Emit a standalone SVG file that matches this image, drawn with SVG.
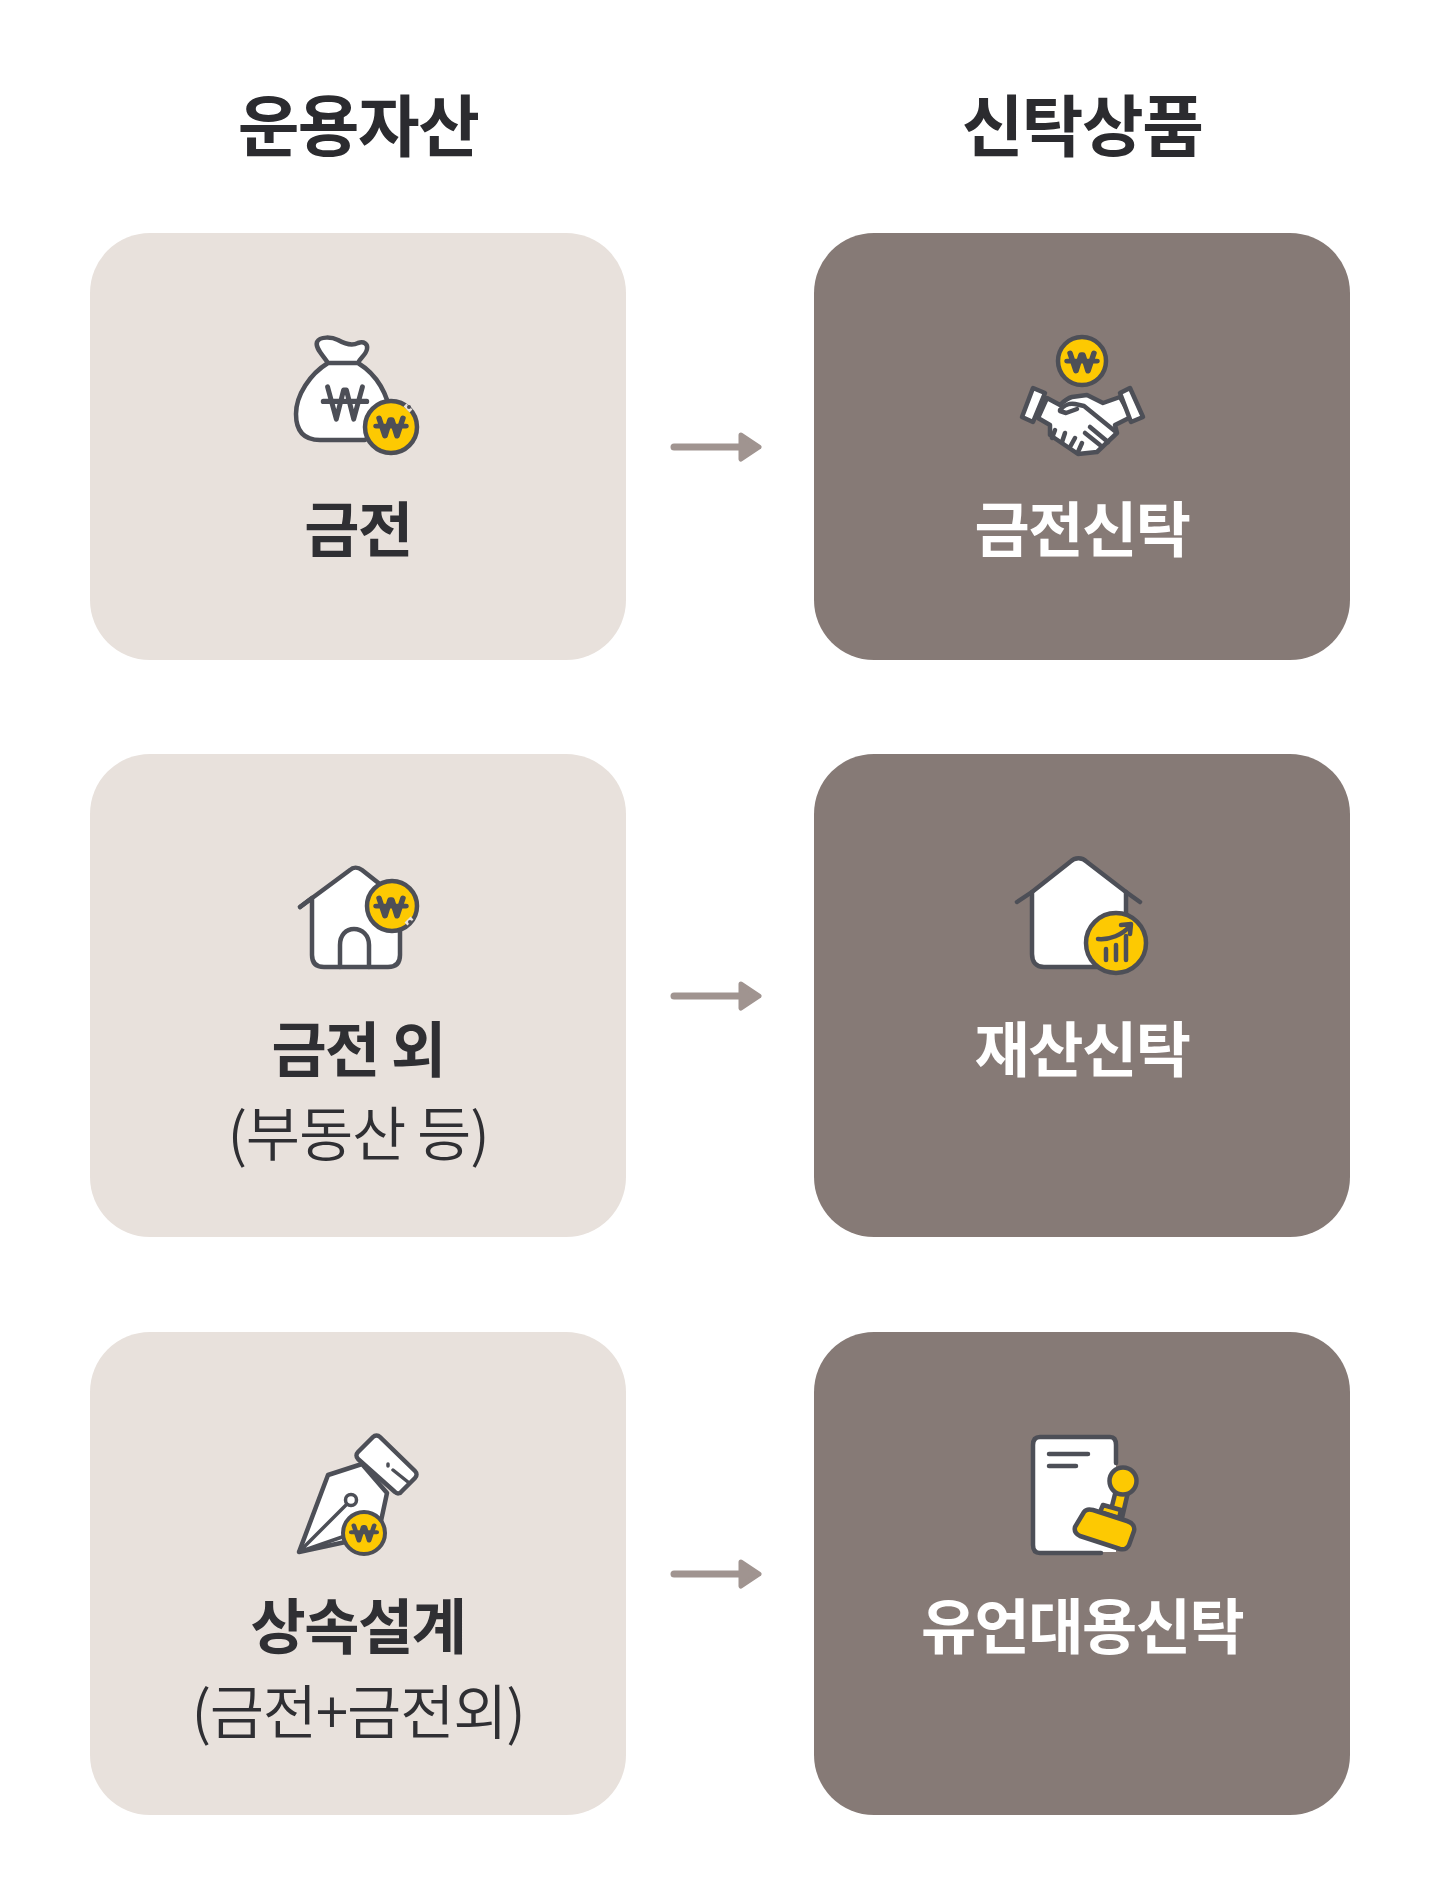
<svg xmlns="http://www.w3.org/2000/svg" width="1439" height="1892" viewBox="0 0 1439 1892">
<style>
text{font-family:"Noto Sans CJK KR","Noto Sans",sans-serif;text-anchor:middle}
.h{font-size:67px;font-weight:700;fill:#2b2b2f;letter-spacing:-1.5px}
.l{font-size:60px;font-weight:700;fill:#2f2f33;letter-spacing:-1.5px}
.w{font-size:60px;font-weight:700;fill:#fff;letter-spacing:-1.5px}
.s{font-size:59px;font-weight:350;fill:#2f2f33;letter-spacing:-1.2px}
.lt{fill:#e8e1dc}.dk{fill:#867a76}
.i{fill:#fff;stroke:#4d4f57;stroke-width:4.5;stroke-linejoin:round;stroke-linecap:round}
.n{fill:none;stroke:#4d4f57;stroke-width:4.5;stroke-linejoin:round;stroke-linecap:round}
.f{fill:#fff}
.c{fill:#fdc902;stroke:#4d4f57;stroke-width:4.5}
.st{fill:#fdc902;stroke:#4d4f57;stroke-width:4.5;stroke-linejoin:round}
.ar{fill:none;stroke:#a09490;stroke-width:7;stroke-linecap:round}
.ah{fill:#a09490;stroke:#a09490;stroke-width:5;stroke-linejoin:round}
</style>
<defs>
<g id="won" fill="none" stroke="#4d4f57" stroke-linecap="round" stroke-linejoin="round">
<path d="M-12-10-6 10-1-8H1L6 10 12-10M-15-1H15"/>
</g>
</defs>
<rect width="1439" height="1892" fill="#fff"/>
<text class="h" x="358" y="151">운용자산</text>
<text class="h" x="1082" y="151">신탁상품</text>
<g id="connectors">
<g><path class="ar" d="M674 447H742"/><path class="ah" d="M741 435 759 447 741 459Z"/></g>
<g><path class="ar" d="M674 996H742"/><path class="ah" d="M741 984 759 996 741 1008Z"/></g>
<g><path class="ar" d="M674 1574H742"/><path class="ah" d="M741 1562 759 1574 741 1586Z"/></g>
</g>
<g id="node-gold">
<rect class="lt" x="90" y="233" width="536" height="427" rx="60"/>
<path class="i" d="M328 363C322 354 315 348 317 342C320 336 332 337 338 340C345 344 352 346 358 343C364 341 368 344 367 349C366 355 360 358 358 363ZM328 363H358C376 374 388 393 392 420L365 440H320C303 440 296 430 296 414C296 395 310 374 328 363Z"/>
<use href="#won" transform="translate(345 403) scale(1.45 1.6)" stroke-width="3.4"/>
<circle class="c" cx="391" cy="427" r="26"/>
<use href="#won" transform="translate(391 427) scale(1 .9)" stroke-width="5.5"/>
<path d="M405 405 411 411" stroke="#e8e1dc" stroke-width="4"/><circle cx="409" cy="407" r="2" fill="#4d4f57"/>
<text class="l" x="358" y="552">금전</text>
</g>
<g id="node-gold-trust">
<rect class="dk" x="814" y="233" width="536" height="427" rx="60"/>
<circle class="c" cx="1082" cy="361" r="24"/>
<use href="#won" transform="translate(1082 362) scale(1 .9)" stroke-width="5.5"/>
<path class="i" d="M1047 398 1060 405C1064 401 1068 398 1072 397L1087 395 1103 403 1120 397 1131 417 1115 425 1117 433 1097 452 1078 454 1050 435 1050 425 1038 418Z"/>
<path class="i" d="M1033 388 1045 393 1033 422 1022 417ZM1120 393 1130 388 1143 417 1131 422Z"/>
<path class="n" d="M1060 410C1064 405 1070 403 1075 404L1084 406 1116 432M1060 411 1066 413 1077 409M1090 427 1108 442M1085 433 1100 445M1055 430 1052 438M1065 433 1062 442M1075 438 1070 447M1082 443 1078 452"/>
<text class="w" x="1082" y="552">금전신탁</text>
</g>
<g id="node-etc">
<rect class="lt" x="90" y="754" width="536" height="483" rx="60"/>
<path class="i" d="M300 907 350 870C353 867 358 867 362 870L400 900V955C400 963 396 967 388 967H324C316 967 312 963 312 955V898Z"/>
<path class="n" d="M300 907 312 898M340 967V945C340 935 346 929 354 929C362 929 369 935 369 945V967"/>
<circle class="c" cx="392" cy="906" r="25"/>
<use href="#won" transform="translate(391 907) scale(1 .9)" stroke-width="5.5"/>
<path d="M406 924 412 918" stroke="#e8e1dc" stroke-width="4"/><circle cx="410" cy="922" r="2" fill="#4d4f57"/>
<text class="l" x="358" y="1072">금전 외</text>
<text class="s" x="358" y="1156">(부동산 등)</text>
</g>
<g id="node-property-trust">
<rect class="dk" x="814" y="754" width="536" height="483" rx="60"/>
<path class="i" d="M1032 892 1070 862C1075 857 1082 857 1087 862L1126 892V950C1126 962 1122 967 1114 967H1044C1036 967 1032 962 1032 954Z"/>
<path class="n" d="M1017 902 1032 892M1126 892 1140 902"/>
<circle class="c" cx="1116" cy="943" r="30"/>
<path class="n" d="M1098 939C1110 940 1122 935 1130 926M1121 925 1131 924 1130 934M1106 949V960M1116 945V960M1126 936V960"/>
<text class="w" x="1082" y="1072">재산신탁</text>
</g>
<g id="node-inherit">
<rect class="lt" x="90" y="1332" width="536" height="483" rx="60"/>
<path class="i" d="M299 1552 328 1475 362 1464 387 1493 378 1535Z" stroke-width="3.5"/>
<path class="i" d="M358 1452 373 1437C375 1435 378 1435 380 1437L415 1471C417 1473 417 1476 415 1478L402 1491C400 1494 397 1494 395 1492L358 1459C356 1457 356 1454 358 1452Z" stroke-width="3.5"/>
<path class="n" style="stroke-width:3.5" d="M388 1464 388 1466M393 1470 408 1482M299 1552 347 1504M299 1552 345 1536"/>
<circle class="i" cx="351" cy="1500" r="5.5" style="stroke-width:3.5"/>
<circle class="c" cx="364" cy="1533" r="21" style="stroke-width:4"/>
<use href="#won" transform="translate(364 1533) scale(.85 .75)" stroke-width="5.5"/>
<text class="l" x="358" y="1649">상속설계</text>
<text class="s" x="358" y="1734">(금전+금전외)</text>
</g>
<g id="node-will-trust">
<rect class="dk" x="814" y="1332" width="536" height="483" rx="60"/>
<path class="f" d="M1040 1437H1110C1114 1437 1116 1440 1116 1445V1552H1040C1035 1552 1033 1550 1033 1545V1445C1033 1440 1035 1437 1040 1437Z"/>
<path class="n" d="M1116 1463V1445C1116 1440 1114 1437 1110 1437H1040C1035 1437 1033 1440 1033 1445V1545C1033 1550 1035 1553 1040 1553H1101"/>
<path class="n" d="M1049 1454H1088M1049 1466H1076"/>
<path class="st" d="M1110 1514 1116 1490 1128 1492 1122 1518Z"/>
<circle class="st" cx="1123" cy="1481" r="13.5"/>
<path class="st" d="M1100 1512 1103 1505 1121 1510 1119 1518Z"/>
<path class="st" d="M1084 1512C1086 1509 1089 1509 1093 1510L1127 1521C1133 1523 1135 1527 1134 1531L1129 1545C1127 1549 1124 1550 1120 1549L1080 1536C1076 1534 1074 1531 1075 1527Z"/>
<text class="w" x="1082" y="1649">유언대용신탁</text>
</g>
</svg>
